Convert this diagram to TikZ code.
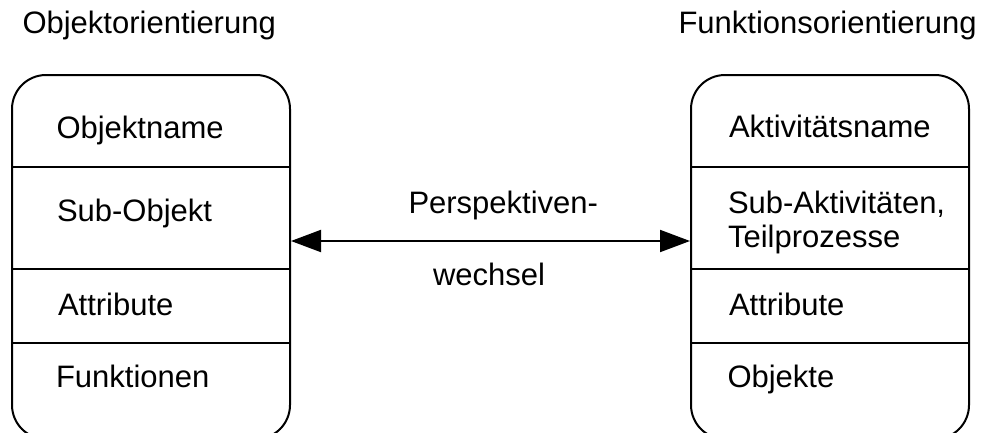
\documentclass[tikz,border=0pt]{standalone}
\usepackage{fontspec}
\setmainfont{Liberation Sans}
\usetikzlibrary{arrows.meta}
\begin{document}
\begin{tikzpicture}[x=1pt,y=-1pt,line width=2pt,
  box/.style={draw,rounded corners=34pt,minimum width=278pt,minimum height=364pt,inner sep=0pt,anchor=north west},
  lbl/.style={anchor=base west,inner sep=0pt,font=\fontsize{31}{36}\selectfont},
  dblarrow/.style={>={Triangle[length=30pt,width=22pt]},<->}]
\useasboundingbox (0,0) rectangle (982,432);
\clip (0,0) rectangle (982,432);
\node[box] (boxL) at (11,74) {};
\node[box] (boxR) at (690,74) {};
\foreach \yy in {167,269,343}{
  \draw (boxL.west |- 0,\yy) -- (boxL.east |- 0,\yy);
  \draw (boxR.west |- 0,\yy) -- (boxR.east |- 0,\yy);
}
\node[lbl] (tL) at (21.5,33) {Objektorientierung};
\node[lbl] (tR) at (677.5,33) {Funktionsorientierung};
\node[lbl] (l1) at (55.5,138) {Objektname};
\node[lbl] (l2) at (56,221) {Sub-Objekt};
\node[lbl] (l3) at (57,315) {Attribute};
\node[lbl] (l4) at (55,387) {Funktionen};
\node[lbl] (r1) at (728,137) {Aktivitätsname};
\node[lbl] (r2a) at (727,213) {Sub-Aktivitäten,};
\node[lbl] (r2b) at (727,247) {Teilprozesse};
\node[lbl] (r3) at (728,315) {Attribute};
\node[lbl] (r4) at (726.5,387) {Objekte};
\node[lbl] (p1) at (407.5,213) {Perspektiven-};
\node[lbl] (p2) at (432,285) {wechsel};
\draw[dblarrow] (boxL.east |- 0,241) -- (boxR.west |- 0,241);
\end{tikzpicture}
\end{document}
